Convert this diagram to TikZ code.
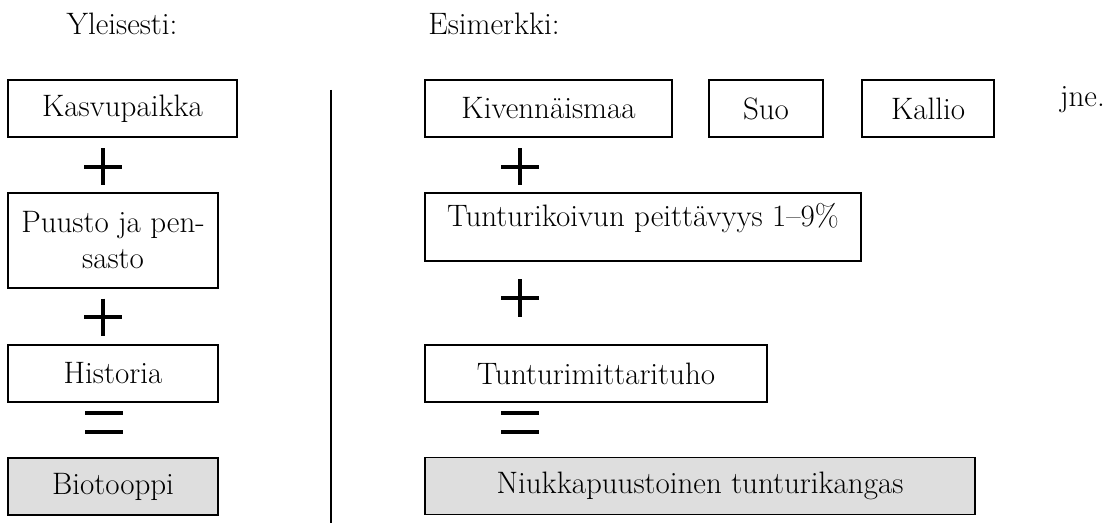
\documentclass[tikz,border=0pt]{standalone}
\definecolor{boxgray}{RGB}{222,222,222}
\begin{document}
\begin{tikzpicture}
        [x=0.5pt, y=-0.5pt, every node/.style={font=\fontsize{15.5}{18}\selectfont},
        box/.style={draw, line width=0.9pt, minimum height=28.5pt, inner sep=0pt, align=center},
        result/.style={box, fill=boxgray},
        heading/.style={anchor=base},
        sign/.style={line width=2pt},
        plussign/.pic={\draw[sign] (-19,0) -- (19,0) (0,-18.5) -- (0,18.5);},
        equalsign/.pic={\draw[sign] (-19,-9.5) -- (19,-9.5) (-19,9.5) -- (19,9.5);}]

        \useasboundingbox (0,0) rectangle (1111,523);

        % headings
        \node[heading] (gen) at (122,35) {Yleisesti:};
        \node[heading] (ex) at (494,35) {Esimerkki:};

        % general column
        \node[box, minimum width=114.5pt] (site) at (122.5,108.5) {Kasvupaikka};
        \node[box, minimum width=105pt, minimum height=47.5pt] (trees) at (113,240.5) {Puusto ja pen-\\sasto};
        \node[box, minimum width=105pt] (hist) at (113,373.5) {Historia};
        \node[result, minimum width=105pt] (bio) at (113,486.5) {Biotooppi};

        \pic (plusa) at (103,167) {plussign};
        \pic (plusb) at (103,317) {plussign};
        \pic (eqa) at (104,422.5) {equalsign};

        % divider
        \coordinate (divtop) at (331,90);
        \coordinate (divbot) at (331,523);
        \draw[line width=1pt] (divtop) -- (divbot);

        % example column
        \node[box, minimum width=123.5pt] (mineral) at (548.5,108.5) {Kivennäismaa};
        \node[box, minimum width=57pt] (bog) at (766,108.5) {Suo};
        \node[box, minimum width=66pt] (rock) at (928,108.5) {Kallio};
        \node[anchor=base west] (etc) at (1053,107) {jne.};
        \node[box, minimum width=218pt, minimum height=34pt, text height=11pt, text depth=11pt] (birch) at (643,227) {Tunturikoivun peittävyys 1--9\%};
        \node[box, minimum width=171pt] (moth) at (596,373.5) {Tunturimittarituho};
        \node[result, minimum width=275pt] (heath) at (700,486) {Niukkapuustoinen tunturikangas};

        \pic (plusc) at (520,167) {plussign};
        \pic (plusd) at (520,298) {plussign};
        \pic (eqb) at (520,422.5) {equalsign};

    \end{tikzpicture}
\end{document}
